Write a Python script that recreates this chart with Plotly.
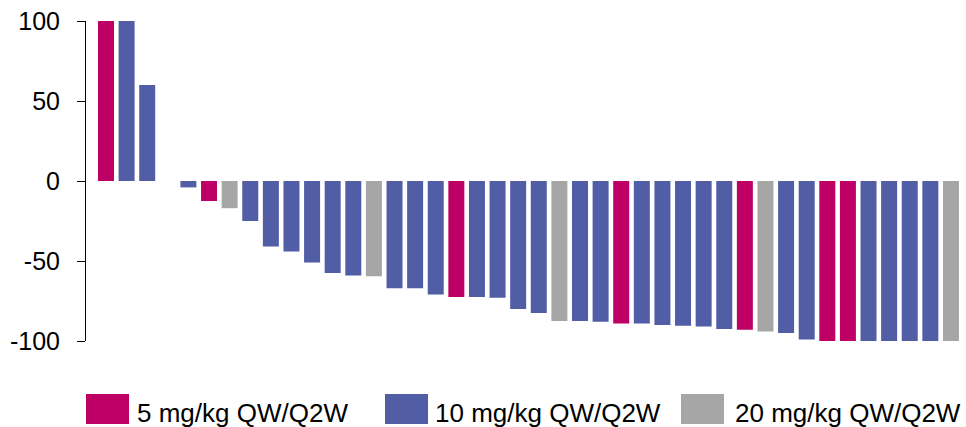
import plotly.graph_objects as go

# Best percentage change from baseline per patient, sorted (waterfall)
change_pct = [100, 100, 60, 0, -4, -12.5, -17, -25, -41, -44, -51, -57.5, -59, -59.5,
              -67, -67, -71, -72.5, -72.5, -73, -80, -82.5, -87.5, -87.5, -88, -89,
              -89, -90, -90.5, -91, -92.5, -93, -94, -95, -99, -100, -100, -100, -100,
              -100, -100, -100]
# Dose group per patient: 5, 10 or 20 mg/kg
dose_group = [5, 10, 10, 10, 10, 5, 20, 10, 10, 10, 10, 10, 10, 20,
              10, 10, 10, 5, 10, 10, 10, 10, 20, 10, 10, 5,
              10, 10, 10, 10, 10, 5, 20, 10, 10, 5, 5, 10, 10,
              10, 10, 20]

group_names = {5: "5 mg/kg QW/Q2W", 10: "10 mg/kg QW/Q2W", 20: "20 mg/kg QW/Q2W"}
group_colors = {5: "#BE0066", 10: "#515DA5", 20: "#A6A6A6"}
y_ticks = [100, 50, 0, -50, -100]

W, H = 966, 427
ML, MR, MT, MB = 86, 0, 21, 86
FONT = "Liberation Sans, Arial, sans-serif"
BAR_WIDTH = 0.776  # fraction of one patient slot

fig = go.Figure()
for g in (5, 10, 20):
    xs = [i for i, d in enumerate(dose_group) if d == g]
    ys = [change_pct[i] for i in xs]
    fig.add_trace(go.Bar(x=xs, y=ys, name=group_names[g], width=BAR_WIDTH,
                         marker=dict(color=group_colors[g], line=dict(width=0)),
                         showlegend=False))

# Legend drawn as large swatches with labels underneath the plot
pw = W - ML - MR
ph = H - MT - MB

def px_x(px):
    return (px - ML) / pw

def px_y(py):
    return (H - MB - py) / ph

legend_items = [(5, 86, 136), (10, 385, 434), (20, 681, 734)]
for g, sx, tx in legend_items:
    fig.add_shape(type="rect", xref="paper", yref="paper",
                  x0=px_x(sx), x1=px_x(sx + 43), y0=px_y(424), y1=px_y(394),
                  fillcolor=group_colors[g], line=dict(width=0))
    fig.add_annotation(xref="paper", yref="paper", x=px_x(tx), y=px_y(413),
                       xanchor="left", yanchor="middle", showarrow=False,
                       text=group_names[g], borderpad=0,
                       font=dict(family=FONT, size=26, color="#000000"))

fig.update_layout(
    width=W, height=H,
    margin=dict(l=ML, r=MR, t=MT, b=MB, pad=0),
    paper_bgcolor="white", plot_bgcolor="white",
    barmode="overlay",
    font=dict(family=FONT, color="#000000"),
    xaxis=dict(range=[-0.97, 41.73], showgrid=False, zeroline=False,
               showline=False, showticklabels=False, ticks=""),
    yaxis=dict(range=[-100, 100], tickvals=y_ticks,
               ticktext=[str(v) for v in y_ticks],
               showgrid=False, zeroline=False,
               showline=True, linecolor="#000000", linewidth=1,
               ticks="outside", ticklen=8, tickcolor="#000000", tickwidth=1,
               ticklabelstandoff=12,
               tickfont=dict(family=FONT, size=25, color="#000000")),
)

fig.write_html("out.html")
